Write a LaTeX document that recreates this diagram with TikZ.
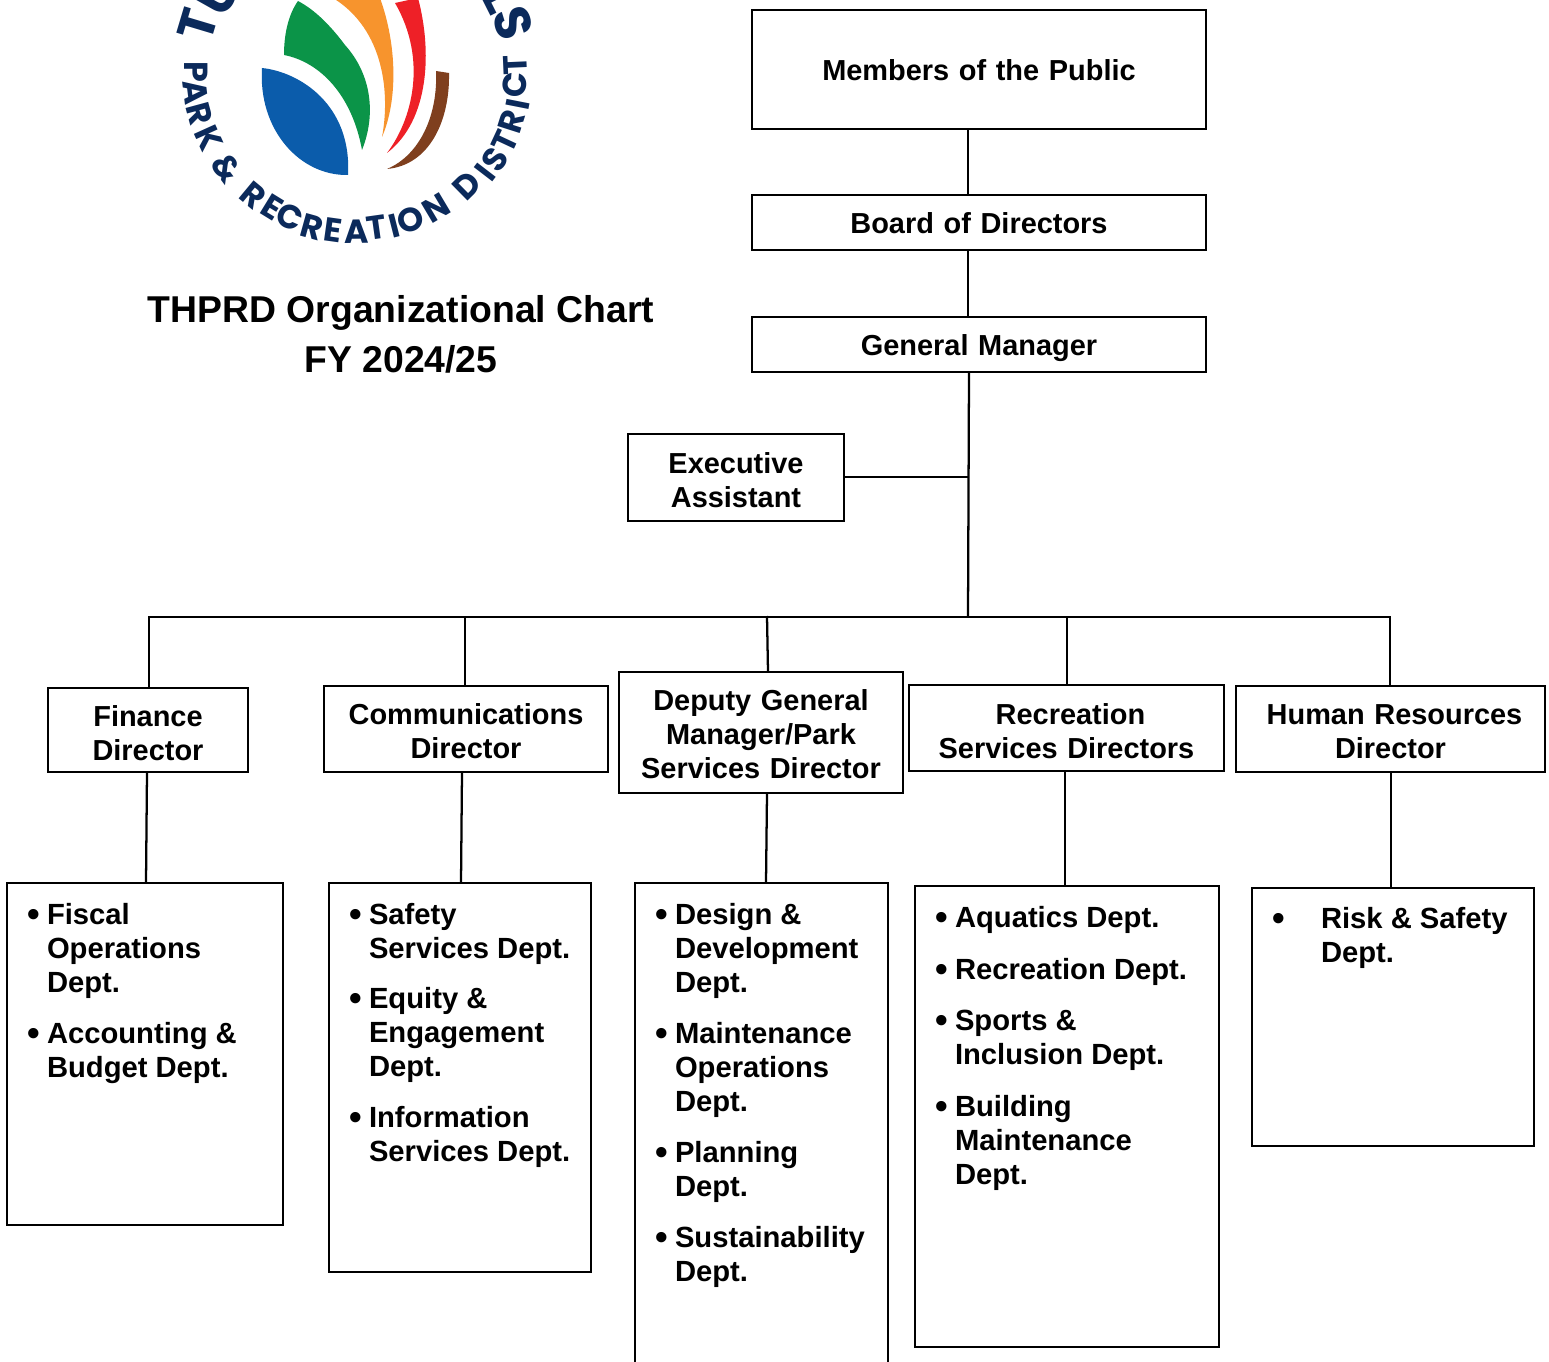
\documentclass[tikz,border=0pt]{standalone}
\usepackage{fontspec}
\setmainfont{Liberation Sans}
\newfontfamily\lgf{Poppins}
\definecolor{navy}{HTML}{0B2A5B}
\definecolor{pblue}{HTML}{0B5CAB}
\definecolor{pgreen}{HTML}{0B9448}
\definecolor{porange}{HTML}{F7942D}
\definecolor{pred}{HTML}{EE2027}
\definecolor{pbrown}{HTML}{7F3F1E}
\newcounter{itm}
\tikzset{
  box/.style={draw=black,line width=1.7pt,fill=white,inner sep=0pt,outer sep=0pt,align=center,font=\fontsize{21.7}{25.5}\selectfont\bfseries},
  conn/.style={draw=black,line width=1.7pt},
  itemtxt/.style={inner sep=0pt,outer sep=0pt,align=left,anchor=north west,font=\fontsize{21.9}{25.5}\selectfont\bfseries},
  bul/.style={inner sep=0pt,outer sep=0pt,anchor=base,font=\fontsize{27}{27}\selectfont\bfseries},
  titletxt/.style={inner sep=0pt,outer sep=0pt,align=center,anchor=base,font=\fontsize{28}{37.5}\selectfont\bfseries},
  lglow/.style={inner sep=0pt,text=navy,font=\lgf\fontsize{25}{25}\selectfont\bfseries},
  lgtop/.style={inner sep=0pt,text=navy,font=\lgf\fontsize{38}{38}\selectfont\bfseries}
}
% first-line strut: pushes text down by #1 px; last-line strut
\newcommand{\ts}[1]{\rule{0pt}{\dimexpr 19.5pt+#1pt*3/2\relax}}
\newcommand{\de}{\rule[-4pt]{0pt}{0pt}}
% name, x0, y0, x1, y1, text
\newcommand{\bx}[6]{%
  \pgfmathsetmacro{\bw}{(#4-#2)*0.75}\pgfmathsetmacro{\bh}{(#5-#3)*0.75}%
  \node[box,minimum width=\bw pt,minimum height=\bh pt,text width=\bw pt] (#1) at ({(#2+#4)/2},{(#3+#5)/2}) {#6};}
% bullet x, text x, first baseline, text
\newcommand{\li}[4]{%
  \stepcounter{itm}%
  \node[bul] (b\theitm) at (#1,{#3+1}) {•};
  \node[itemtxt] (t\theitm) at (#2,{#3-25}) {\rule{0pt}{18pt}#4};}
\begin{document}
\begin{tikzpicture}[x=0.75pt,y=-0.75pt]
\path[use as bounding box] (0,0) rectangle (1549,1362);
\clip (0,0) rectangle (1549,1362);
% logo
\fill[pblue] (262,68) .. controls (300,72) and (352,105) .. (348,175) .. controls (300,176) and (258,130) .. (262,68) -- cycle;
\fill[pgreen] (298,1) .. controls (288,15) and (284,35) .. (284,55) .. controls (320,62) and (352,95) .. (362,150) .. controls (376,115) and (372,75) .. (345,45) .. controls (330,25) and (315,10) .. (298,1) -- cycle;
\fill[porange] (333,-2) -- (380,-2) .. controls (397,45) and (398,100) .. (382,137) .. controls (390,95) and (385,30) .. (333,-2) -- cycle;
\fill[pred] (395,3) -- (418,-2) .. controls (432,50) and (430,120) .. (387,153) .. controls (412,120) and (428,60) .. (395,3) -- cycle;
\fill[pbrown] (436,71) -- (449,73) .. controls (450,120) and (430,165) .. (387,169) .. controls (420,155) and (438,115) .. (436,71) -- cycle;
\foreach \ch/\px/\py [count=\i] in {P/196/72,A/196/92,R/200/114,K/209/138,\&/227/168,R/253/195,E/272/207,C/290/217,R/312/227,E/333/230,A/357/232,T/377/228,I/394/226,O/411/220,N/436/208,D/467/186,I/485/172,S/495/160,T/505/142,R/512/122,I/518/104,C/515/85,T/515/65}{
  \pgfmathsetmacro{\ang}{atan2(72-\py,\px-355)+90}
  \node[lglow,rotate=\ang] (lg\i) at (\px,\py) {\ch};
}
\foreach \ch/\px/\py [count=\i] in {T/198/25,U/218/-5,L/502/-2,S/513/23}{
  \pgfmathsetmacro{\ang}{atan2(72-\py,\px-355)-90}
  \node[lgtop,rotate=\ang] (lu\i) at (\px,\py) {\ch};
}
% title
\node[titletxt] (title) at (401,373) {THPRD Organizational Chart\\FY 2024/25};
% boxes
\bx{members}{752}{10}{1206}{129}{\ts{1}Members of the Public\de}
\bx{board}{752}{195}{1206}{250}{\ts{1}Board of Directors\de}
\bx{gm}{752}{317}{1206}{372}{\ts{1}General Manager\de}
\bx{exec}{628}{434}{844}{521}{\ts{3}Executive\\Assistant\de}
\bx{fin}{48}{688}{248}{772}{\ts{3}Finance\\Director\de}
\bx{comm}{324}{686}{608}{772}{\ts{2}Communications\\Director\de}
\bx{dep}{619}{672}{903}{793}{\ts{2}Deputy General\\Manager/Park\\Services Director\de}
\bx{rec}{909}{685}{1224}{771}{\ts{3}\hspace*{6pt}Recreation\\Services Directors\de}
\bx{hr}{1236}{686}{1545}{772}{\ts{2}\hspace*{6pt}Human Resources\\Director\de}
\bx{dfin}{7}{883}{283}{1225}{}
\bx{dcomm}{329}{883}{591}{1272}{}
\bx{ddep}{635}{883}{888}{1380}{}
\bx{drec}{915}{886}{1219}{1347}{}
\bx{dhr}{1252}{888}{1534}{1146}{}
% connector helpers
\coordinate (trunk) at (968,617);
\coordinate (gmout) at (969,372);
\coordinate (busL) at (149,617);
\coordinate (busC) at (465,617);
\coordinate (busD) at (767,616);
\coordinate (busR) at (1067,617);
\coordinate (busH) at (1390,617);
\coordinate (jex) at (968,477);
\coordinate (xfinA) at (147,0);
\coordinate (xfinB) at (146,0);
\coordinate (xcommA) at (462,0);
\coordinate (xcommB) at (461,0);
\coordinate (xdepA) at (767,0);
\coordinate (xdepB) at (766,0);
\coordinate (xdepT) at (768,0);
\coordinate (xrec) at (1065,0);
\coordinate (xhr) at (1391,0);
% connectors
\draw[conn] (members.south -| trunk) -- (board.north -| trunk);
\draw[conn] (board.south -| trunk) -- (gm.north -| trunk);
\draw[conn] (gmout) -- (trunk);
\draw[conn] (exec.east |- jex) -- (jex);
\draw[conn] (fin.north -| busL) -- (busL) -- (busH) -- (hr.north -| busH);
\draw[conn] (comm.north -| busC) -- (busC);
\draw[conn] (dep.north -| xdepT) -- (busD);
\draw[conn] (rec.north -| busR) -- (busR);
\draw[conn] (fin.south -| xfinA) -- (dfin.north -| xfinB);
\draw[conn] (comm.south -| xcommA) -- (dcomm.north -| xcommB);
\draw[conn] (dep.south -| xdepA) -- (ddep.north -| xdepB);
\draw[conn] (rec.south -| xrec) -- (drec.north -| xrec);
\draw[conn] (hr.south -| xhr) -- (dhr.north -| xhr);
% lists
\li{34}{47}{925}{Fiscal\\Operations\\Dept.}
\li{34}{47}{1044}{Accounting \&\\Budget Dept.}
\li{356}{369}{925}{Safety\\Services Dept.}
\li{356}{369}{1009}{Equity \&\\Engagement\\Dept.}
\li{356}{369}{1128}{Information\\Services Dept.}
\li{662}{675}{925}{Design \&\\Development\\Dept.}
\li{662}{675}{1044}{Maintenance\\Operations\\Dept.}
\li{662}{675}{1163}{Planning\\Dept.}
\li{662}{675}{1248}{Sustainability\\Dept.}
\li{942}{955}{928}{Aquatics Dept.}
\li{942}{955}{980}{Recreation Dept.}
\li{942}{955}{1031}{Sports \&\\Inclusion Dept.}
\li{942}{955}{1117}{Building\\Maintenance\\Dept.}
\li{1279}{1321}{929}{Risk \& Safety\\Dept.}
\end{tikzpicture}
\end{document}
